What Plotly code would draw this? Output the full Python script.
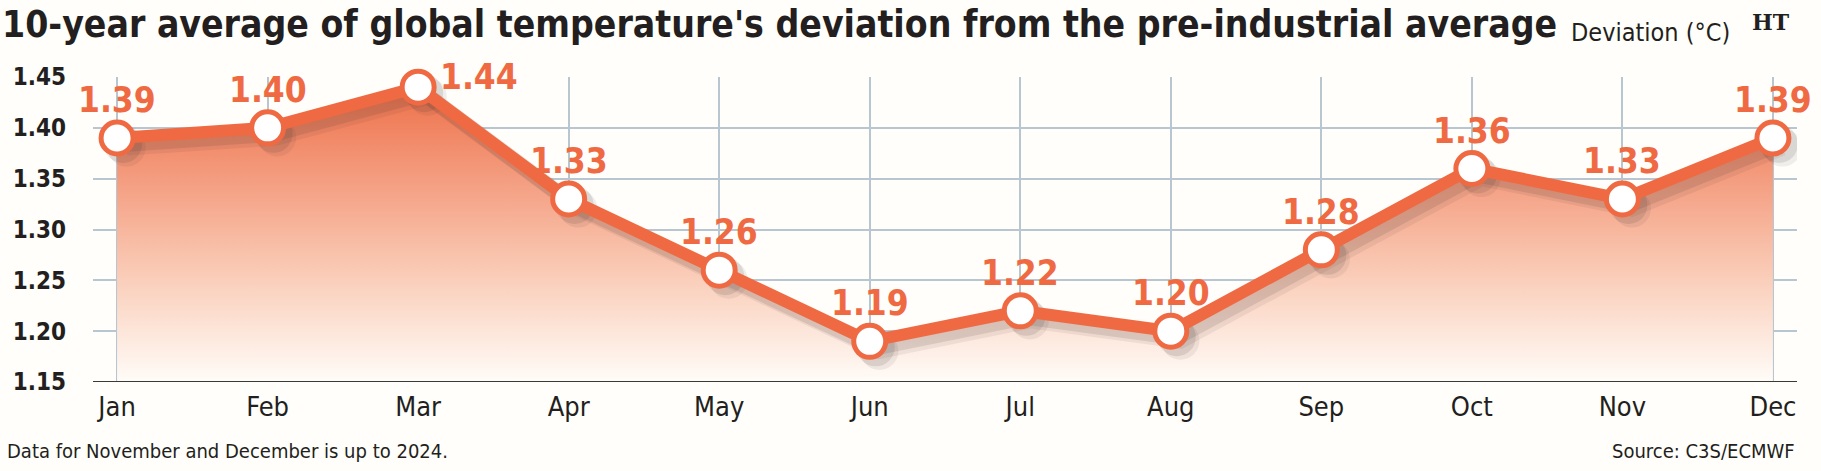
import plotly.graph_objects as go

months = ["Jan", "Feb", "Mar", "Apr", "May", "Jun", "Jul", "Aug", "Sep", "Oct", "Nov", "Dec"]
values = [1.39, 1.40, 1.44, 1.33, 1.26, 1.19, 1.22, 1.20, 1.28, 1.36, 1.33, 1.39]
labels = ["1.39", "1.40", "1.44", "1.33", "1.26", "1.19", "1.22", "1.20", "1.28", "1.36", "1.33", "1.39"]
y_ticks = [1.15, 1.20, 1.25, 1.30, 1.35, 1.40, 1.45]
y_ticktext = ["1.15", "1.20", "1.25", "1.30", "1.35", "1.40", "1.45"]

TITLE = "10-year average of global temperature's deviation from the pre-industrial average"
UNIT = "Deviation (°C)"
NOTE = "Data for November and December is up to 2024."
SOURCE = "Source: C3S/ECMWF"

ORANGE = "#ef6a43"
DARK = "#231f20"
GRID = "#b7c6d1"
BG = "#fffefa"
COND = "DejaVu Sans Condensed, Liberation Sans Narrow, Roboto Condensed, Arial Narrow, Roboto, sans-serif"

xs = list(range(len(months)))
YMIN, YMAX = 1.15, 1.45
PLOT_W, PLOT_H = 1704, 305
XMIN, XMAX = -0.16, 11.16
dx = 6 * (XMAX - XMIN) / PLOT_W
dy = 6 * (YMAX - YMIN) / PLOT_H

fig = go.Figure()

# gradient area
fig.add_trace(go.Scatter(
    x=xs, y=values, mode="lines", line=dict(width=0, color="rgba(0,0,0,0)"),
    fill="tozeroy",
    fillgradient=dict(type="vertical", start=YMIN, stop=max(values),
                      colorscale=[[0, "rgba(255,252,248,1)"], [0.35, "rgba(250,206,186,1)"],
                                  [1, "rgba(238,112,74,1)"]]),
    hoverinfo="skip", showlegend=False,
))

# soft shadow
for k, op in [(1.6, 0.08), (1.0, 0.12)]:
    fig.add_trace(go.Scatter(
        x=[x + dx * k for x in xs], y=[v - dy * k for v in values],
        mode="lines+markers",
        line=dict(width=16, color=f"rgba(60,50,50,{op})"),
        marker=dict(size=38, color=f"rgba(60,50,50,{op})"),
        hoverinfo="skip", showlegend=False,
    ))

# main line
fig.add_trace(go.Scatter(
    x=xs, y=values, mode="lines+markers",
    line=dict(width=12, color=ORANGE),
    marker=dict(size=32, color="white", line=dict(width=5, color=ORANGE)),
    cliponaxis=False, showlegend=False,
))

label_font = dict(size=35, color=ORANGE, family=COND, weight="bold")
annotations = []
for i, (v, t) in enumerate(zip(values, labels)):
    if v == max(values):
        annotations.append(dict(x=xs[i], y=v, text=t, showarrow=False,
                                xanchor="left", yanchor="middle", xshift=20, yshift=10,
                                font=label_font))
    else:
        annotations.append(dict(x=xs[i], y=v, text=t, showarrow=False,
                                xanchor="center", yanchor="bottom", yshift=16,
                                font=label_font))

annotations += [
    dict(xref="paper", yref="paper", x=-93 / PLOT_W, y=1 + 29 / PLOT_H, xanchor="left", yanchor="bottom",
         text=TITLE, showarrow=False, font=dict(size=37, color=DARK, family=COND, weight="bold")),
    dict(xref="paper", yref="paper", x=(1732 - 93) / PLOT_W, y=1 + 28 / PLOT_H, xanchor="right", yanchor="bottom",
         text=UNIT, showarrow=False, font=dict(size=25, color=DARK, family=COND)),
    dict(xref="paper", yref="paper", x=(1792 - 93) / PLOT_W, y=1 + 70 / PLOT_H, xanchor="right", yanchor="top",
         text="HT", showarrow=False, font=dict(size=22, color=DARK, family="DejaVu Serif, serif", weight="bold")),
    dict(xref="paper", yref="paper", x=-88 / PLOT_W, y=-55 / PLOT_H, xanchor="left", yanchor="top",
         text=NOTE, showarrow=False, font=dict(size=20, color=DARK, family=COND)),
    dict(xref="paper", yref="paper", x=1, y=-55 / PLOT_H, xanchor="right", yanchor="top",
         text=SOURCE, showarrow=False, font=dict(size=20, color=DARK, family=COND)),
]

fig.update_layout(
    width=1821, height=471,
    margin=dict(l=93, r=24, t=77, b=89),
    paper_bgcolor=BG, plot_bgcolor=BG,
    annotations=annotations,
    xaxis=dict(range=[XMIN, XMAX], tickvals=xs, ticktext=months, showgrid=True,
               gridcolor=GRID, gridwidth=1.5, zeroline=False, showline=False,
               ticks="", ticklabelstandoff=6,
               tickfont=dict(size=27, color=DARK, family=COND, weight=500), fixedrange=True),
    yaxis=dict(range=[YMIN, YMAX], tickvals=y_ticks, ticktext=y_ticktext, showgrid=True,
               gridcolor=GRID, gridwidth=1.5, zeroline=False, showline=False, ticks="",
               ticklabelstandoff=26,
               tickfont=dict(size=24, color=DARK, family=COND, weight="bold"),
               fixedrange=True),
    shapes=[dict(type="line", xref="paper", yref="y", x0=0, x1=1, y0=YMIN, y1=YMIN,
                 line=dict(color="#3a3a3a", width=2), layer="above")],
)

fig.write_html("out.html")
